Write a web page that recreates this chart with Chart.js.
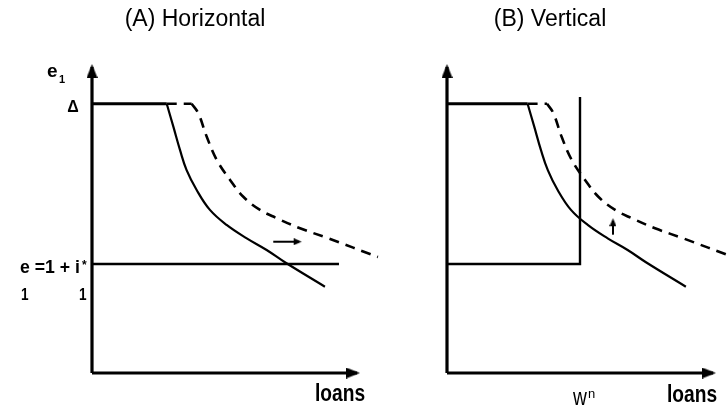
<!DOCTYPE html>
<html><head><meta charset="utf-8">
<script src="https://cdn.jsdelivr.net/npm/chart.js@4"></script>
<style>
html,body{margin:0;padding:0;background:#fff;}
#wrap{position:relative;width:727px;height:408px;overflow:hidden;background:#fff;}
canvas{position:absolute;top:0;}
#cA{left:0px;}
#cB{left:400px;}
</style></head><body>
<div id="wrap"><canvas id="cA" width="400" height="408"></canvas><canvas id="cB" width="327" height="408"></canvas></div>
<script>
// ---------- data (axis units 0..100) ----------
const titles = ['(A) Horizontal', '(B) Vertical'];
const axisY = [{x:0,y:0},{x:0,y:100}];
const axisX = [{x:0,y:0},{x:100,y:0}];

// Panel A
const capA      = [{x:0,y:88},{x:28.2,y:88}];
const capDashA  = [{x:28.2,y:88},{x:37.6,y:88}];
const solidA    = [{x:28.2,y:88},{x:30.7,y:80.5},{x:33.2,y:72.9},{x:35.7,y:66.3},{x:39.5,y:59.8},{x:44.5,y:53.3},{x:50.8,y:48.4},{x:58.4,y:44.0},{x:65.9,y:40.2},{x:72.8,y:36.2},{x:87.9,y:28.2}];
const dashedA   = [{x:37.6,y:88},{x:40.1,y:84.9},{x:43.3,y:77.2},{x:47.1,y:69.6},{x:52.1,y:63.1},{x:57.1,y:57.6},{x:63.4,y:53.3},{x:69.7,y:50.6},{x:78.5,y:47.3},{x:89.2,y:44.0},{x:107.9,y:37.9}];
const rateLineA = [{x:0,y:35.6},{x:93.2,y:35.6}];
const shiftArrowA = [{x:68.4,y:42.9},{x:78.0,y:42.9}];

// Panel B
const capB      = [{x:0,y:88},{x:30.3,y:88}];
const capDashB  = [{x:30.3,y:88},{x:37.6,y:88}];
const solidB    = [{x:30.3,y:88},{x:32.8,y:80.5},{x:35.3,y:72.9},{x:37.9,y:66.3},{x:41.6,y:59.8},{x:46.6,y:53.3},{x:52.9,y:48.4},{x:60.4,y:44.0},{x:67.9,y:40.2},{x:74.8,y:36.2},{x:89.8,y:28.2}];
const dashedB   = [{x:37.6,y:88},{x:40.0,y:84.9},{x:43.1,y:77.2},{x:46.9,y:69.6},{x:51.9,y:63.1},{x:56.9,y:57.6},{x:63.2,y:53.3},{x:69.4,y:50.6},{x:78.2,y:47.3},{x:88.8,y:44.0},{x:107.5,y:37.9}];
const wallB     = [{x:0,y:35.6},{x:50,y:35.6},{x:50,y:90.2}];
const shiftArrowB = [{x:62.4,y:45.2},{x:62.4,y:49.6}];

// ---------- helpers ----------
function arrowHead(w, h) {
  const c = document.createElement('canvas');
  c.width = w; c.height = 2*h;
  const g = c.getContext('2d');
  g.fillStyle = '#000';
  g.beginPath(); g.moveTo(w/2, h-3); g.lineTo(w, 2*h-3); g.lineTo(0, 2*h-3); g.closePath(); g.fill();
  return c;
}
const bigHead = arrowHead(11, 14);
const smallHead = arrowHead(7, 8);

function ds(data, opts) {
  return Object.assign({
    data, showLine:true, borderColor:'#000', backgroundColor:'#000', borderWidth:2.2,
    pointRadius:0, fill:false, clip:false, tension:0, borderCapStyle:'butt', borderJoinStyle:'miter'
  }, opts || {});
}
function curve(data, opts){ return ds(data, Object.assign({tension:0.4}, opts||{})); }
function arrow(data, head, rot, w){ return ds(data, {borderWidth:w, pointRadius:[0,1], pointStyle:head, pointRotation:rot}); }

function txt(g, t, x, y, font, align, sx) {
  g.save();
  g.font = font; g.fillStyle = '#000'; g.textBaseline = 'alphabetic';
  sx = sx || 1;
  const w = g.measureText(t).width * sx;
  let left = x;
  if (align === 'center') left = x - w/2; else if (align === 'right') left = x - w;
  g.translate(left, y); g.scale(sx, 1);
  g.textAlign = 'left';
  g.fillText(t, 0, 0);
  g.restore();
}
const F = '"Liberation Sans", Arial, Helvetica, sans-serif';

function labelsPlugin(list) {
  return { id:'labels', afterDraw(chart){ const g = chart.ctx; list.forEach(l => txt(g, l[0], l[1], l[2], l[3], l[4], l[5])); } };
}

function makeChart(id, datasets, pad, labels) {
  return new Chart(document.getElementById(id), {
    type:'scatter',
    data:{ datasets },
    options:{
      responsive:false, animation:false, events:[],
      layout:{ padding: pad },
      plugins:{ legend:{display:false}, tooltip:{enabled:false}, title:{display:false} },
      scales:{
        x:{ type:'linear', min:0, max:100, display:false },
        y:{ type:'linear', min:0, max:100, display:false }
      }
    },
    plugins:[labelsPlugin(labels)]
  });
}

const DASH = [10,7];

// Panel A
makeChart('cA', [
  arrow(axisY, bigHead, 0, 3.2),
  arrow(axisX, bigHead, 90, 3.2),
  ds(capA, {borderWidth:3}),
  ds(capDashA, {borderWidth:2.6, borderDash:DASH}),
  curve(dashedA, {borderWidth:2.6, borderDash:DASH}),
  curve(solidA, {borderWidth:2.2}),
  ds(rateLineA, {borderWidth:2.6}),
  arrow(shiftArrowA, smallHead, 90, 2)
], {left:92, right:43, top:67, bottom:35}, [
  [titles[0], 195, 26, '23px '+F, 'center'],
  ['e', 47, 77, 'bold 19px '+F, 'left'],
  ['1', 59, 83, 'bold 11px '+F, 'left'],
  ['\u0394', 73, 112, 'bold 16px '+F, 'center'],
  ['e =1 + i', 20, 273, 'bold 19px '+F, 'left', 0.93],
  ['*', 82, 269, 'bold 12px '+F, 'left'],
  ['1', 21, 300, 'bold 16px '+F, 'left', 0.85],
  ['1', 79, 300, 'bold 16px '+F, 'left', 0.85],
  ['loans', 340, 401, 'bold 24px '+F, 'center', 0.8]
]);

// Panel B
makeChart('cB', [
  arrow(axisY, bigHead, 0, 3.2),
  arrow(axisX, bigHead, 90, 3.2),
  ds(capB, {borderWidth:3}),
  ds(capDashB, {borderWidth:2.6, borderDash:DASH}),
  curve(dashedB, {borderWidth:2.6, borderDash:DASH}),
  curve(solidB, {borderWidth:2.2}),
  ds(wallB, {borderWidth:2.4}),
  arrow(shiftArrowB, smallHead, 0, 2)
], {left:47, right:14, top:67, bottom:35}, [
  [titles[1], 150, 26, '23px '+F, 'center'],
  ['w', 173, 405, '24px '+F, 'left', 0.8],
  ['n', 188, 398, '13px '+F, 'left'],
  ['loans', 292, 402, 'bold 24px '+F, 'center', 0.8]
]);
</script>
</body></html>
